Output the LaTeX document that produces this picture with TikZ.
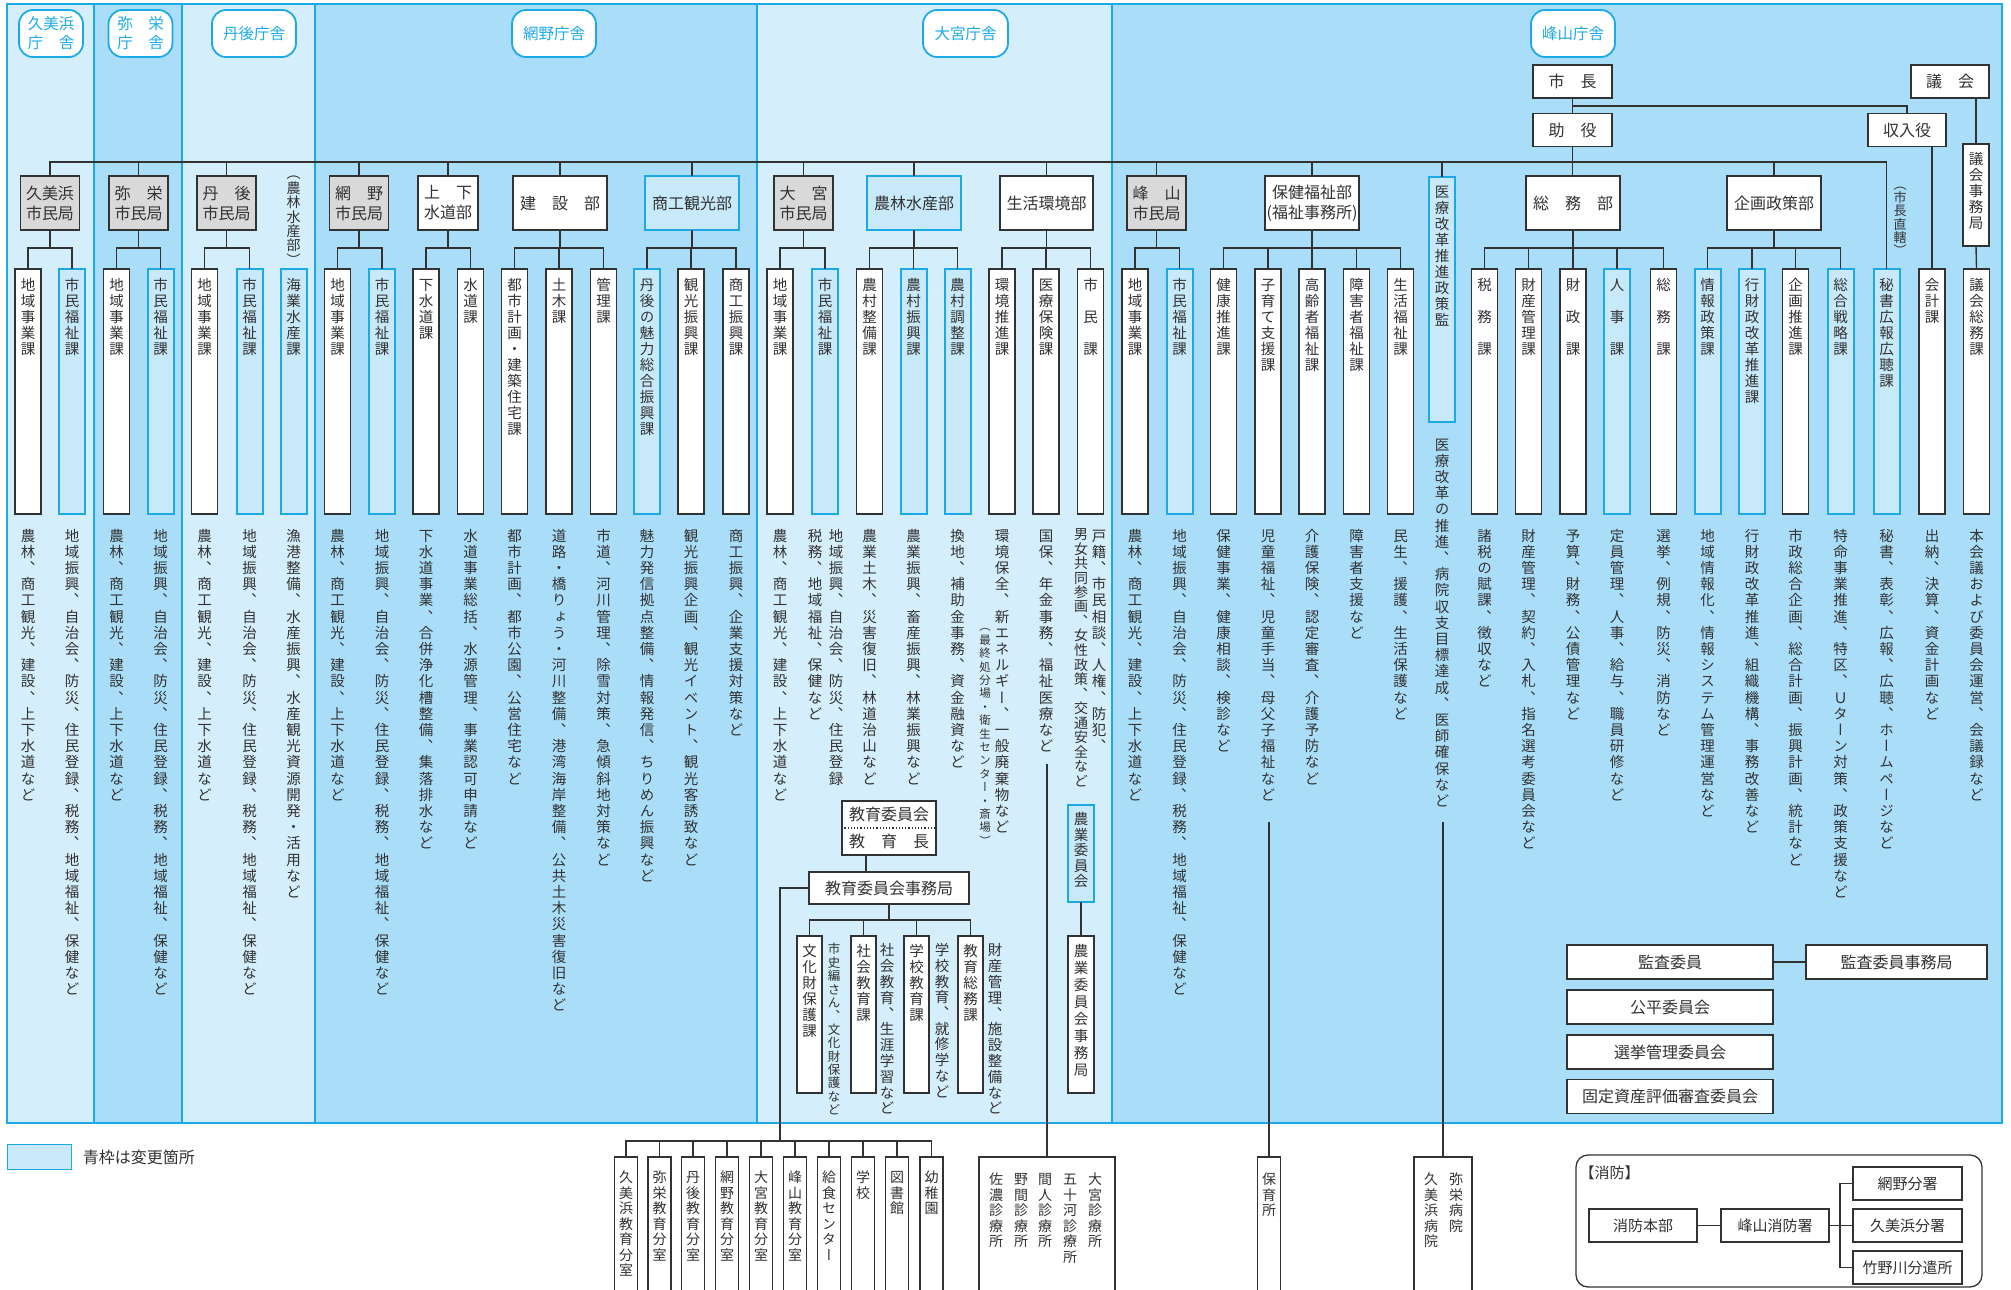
\documentclass[tikz,border=0pt]{standalone}
\usepackage{fontspec}
\usetikzlibrary{positioning}
\newfontfamily\jpfont{Noto Sans CJK JP}
\newfontfamily\jpvfont[RawFeature=+vert]{Noto Sans CJK JP}
\definecolor{kregA}{RGB}{212,238,251}
\definecolor{kregB}{RGB}{170,222,248}
\definecolor{kchgfill}{RGB}{199,233,249}
\definecolor{kcyan}{RGB}{28,170,230}
\definecolor{kink}{RGB}{50,50,50}
\definecolor{kgray}{RGB}{217,217,217}
% 縦書き（1文字ずつ積む）
\ExplSyntaxOn
\dim_new:N \l__kt_pitch_dim
\tl_new:N \l__kt_text_tl
\NewDocumentCommand \tate { O{16.2pt} m }
  {
    \dim_set:Nn \l__kt_pitch_dim {#1}
    \tl_set:Nx \l__kt_text_tl {#2}
    \vbox:n
      {
        \offinterlineskip
        \tl_map_inline:Nn \l__kt_text_tl
          {
            \hbox_to_wd:nn { 1em }
              {
                \hss
                \vrule height 0.8\l__kt_pitch_dim depth 0.2\l__kt_pitch_dim width 0pt
                ##1
                \hss
              }
          }
      }
  }
\ExplSyntaxOff
\tikzset{
  kj/.style={font=\jpfont\fontsize{16}{20}\selectfont, text=kink},
  kv/.style={font=\jpvfont\fontsize{14.5}{16}\selectfont, text=kink, inner sep=0pt, anchor=north},
  kline/.style={draw=kink, line width=1.4pt, line cap=rect},
  kframe/.style={draw=kcyan, line width=1.8pt},
  kbox/.style={kj, draw=kink, line width=1.6pt, fill=white, inner sep=0pt, align=center},
  kshi/.style={kbox, fill=kgray, minimum width=59pt, minimum height=54pt},
  kbu/.style={kbox, minimum width=94pt, minimum height=54pt},
  kchg/.style={draw=kcyan, line width=2pt, fill=kchgfill},
  kka/.style={draw=kink, line width=1.6pt, fill=white, inner sep=0pt, anchor=north,
    minimum width=26pt, minimum height=245pt},
  kbot/.style={kka, minimum width=23pt, minimum height=150pt},
  ksha/.style={font=\jpfont\fontsize{15.5}{19}\selectfont, text=kcyan, draw=kcyan,
    line width=1.8pt, fill=white, rounded corners=14pt, align=center, inner sep=0pt,
    minimum height=47pt},
  kiin/.style={kbox, minimum width=206pt, minimum height=34pt},
  kfire/.style={kbox, line width=1.3pt, minimum width=108pt, minimum height=33pt,
    font=\jpfont\fontsize{15}{18}\selectfont},
}
\begin{document}
\begin{tikzpicture}[x=1pt, y=-1pt]
  \useasboundingbox (0,0) rectangle (2011,1290);
  % 庁舎ごとの背景
  \fill[kregA] (7,4) rectangle (94,1123);
  \fill[kregB] (94,4) rectangle (182,1123);
  \fill[kregA] (182,4) rectangle (315,1123);
  \fill[kregB] (315,4) rectangle (757,1123);
  \fill[kregA] (757,4) rectangle (1112,1123);
  \fill[kregB] (1112,4) rectangle (2002,1123);
  \foreach \x in {94,182,315,757,1112} \draw[kframe] (\x,4) -- (\x,1123);
  \draw[kframe] (7,4) rectangle (2002,1123);

  \coordinate (ym) at (0,162);
  \coordinate (yr) at (0,106);
  \coordinate (yb) at (0,248);
  \coordinate (ydesc) at (0,528);

  % 庁舎名
  \node[ksha, minimum width=64pt] (shaKumi) at (51,33.5) {久美浜\\庁　舎};
  \node[ksha, minimum width=64pt] (shaYasaka) at (140.5,33.5) {弥　栄\\庁　舎};
  \node[ksha, minimum width=84pt] (shaTango) at (254,33.5) {丹後庁舎};
  \node[ksha, minimum width=84pt] (shaAmino) at (554,33.5) {網野庁舎};
  \node[ksha, minimum width=85pt] (shaOmiya) at (965.5,33.5) {大宮庁舎};
  \node[ksha, minimum width=84pt] (shaMine) at (1573,33.5) {峰山庁舎};

  % 市長・助役・議会
  \node[kbox, minimum width=79pt, minimum height=33pt] (shicho) at (1572.5,81.5) {市　長};
  \node[kbox, minimum width=79pt, minimum height=33pt] (joyaku) at (1572.5,130) {助　役};
  \node[kbox, minimum width=78pt, minimum height=33pt] (gikai) at (1950,81.5) {議　会};
  \node[kbox, minimum width=78pt, minimum height=33pt] (shunyu) at (1907,130) {収入役};
  \node[kka, minimum height=102pt] (gikaijim) at (1976,143) {};
  \node[kv] at ([yshift=-8pt]gikaijim.north) {\tate[16pt]{議会事務局}};
  \node[kv, font=\jpvfont\fontsize{13}{13}\selectfont] (chokkatsu) at (1900,179) {\tate[12.5pt]{（市長直轄）}};

  % 部・市民局
  \node[kshi] (kumi) at (50,203) {久美浜\\市民局};
  \node[kshi] (yasaka) at (138.5,203) {弥　栄\\市民局};
  \node[kshi] (tango) at (226.5,203) {丹　後\\市民局};
  \node[kv, font=\jpvfont\fontsize{14}{14}\selectfont] (tangoNorin) at (293.5,168) {\tate[13.3pt]{（農林水産部）}};
  \node[kshi] (amino) at (359,203) {網　野\\市民局};
  \node[kbox, minimum width=60pt, minimum height=54pt] (jogesui) at (448,203) {上　下\\水道部};
  \node[kbu] (kensetsu) at (560,203) {建　設　部};
  \node[kbu, kchg] (shoko) at (692,203) {商工観光部};
  \node[kshi] (omiya) at (803.5,203) {大　宮\\市民局};
  \node[kbu, kchg] (norin) at (914,203) {農林水産部};
  \node[kbu, minimum width=93pt] (seikatsu) at (1046.5,203) {生活環境部};
  \node[kshi] (mine) at (1156.5,203) {峰　山\\市民局};
  \node[kbu] (hoken) at (1312,203) {保健福祉部\\(福祉事務所)};
  \node[kka, kchg] (iryo) at (1442,176) {};
  \node[kv] at ([yshift=-8pt]iryo.north) {\tate[16pt]{医療改革推進政策監}};
  \node[kbu] (somu) at (1573,203) {総　務　部};
  \node[kbu] (kikaku) at (1774,203) {企画政策部};

  % 課
  \foreach \n/\x/\lbl/\st in {
      1/28/地域事業課/kka, 2/72/市民福祉課/kchg, 3/116.5/地域事業課/kka,
      4/160.5/市民福祉課/kchg, 5/204.5/地域事業課/kka, 6/249.5/市民福祉課/kchg,
      7/293.5/海業水産課/kchg, 8/337.5/地域事業課/kka, 9/382/市民福祉課/kchg,
      10/426/下水道課/kka, 11/470.5/水道課/kka, 12/514.5/都市計画・建築住宅課/kka,
      13/559/土木課/kka, 14/603.5/管理課/kka, 15/647/丹後の魅力総合振興課/kchg,
      16/691/観光振興課/kka, 17/736/商工振興課/kka, 18/780/地域事業課/kka,
      19/825/市民福祉課/kchg, 20/869.5/農村整備課/kka, 21/913.5/農村振興課/kchg,
      22/957.5/農村調整課/kchg, 23/1002/環境推進課/kka, 24/1046/医療保険課/kka,
      25/1090.5/市　民　課/kka, 26/1135/地域事業課/kka, 27/1179.5/市民福祉課/kchg,
      28/1223.5/健康推進課/kka, 29/1268/子育て支援課/kka, 30/1312/高齢者福祉課/kka,
      31/1356.5/障害者福祉課/kka, 32/1400.5/生活福祉課/kka, 33/1484.5/税　務　課/kka,
      34/1528.5/財産管理課/kka, 35/1573/財　政　課/kka, 36/1617/人　事　課/kchg,
      37/1663.5/総　務　課/kka, 38/1707.5/情報政策課/kchg, 39/1752/行財政改革推進課/kchg,
      40/1795.5/企画推進課/kka, 41/1840.5/総合戦略課/kchg, 42/1886.5/秘書広報広聴課/kchg,
      43/1932/会計課/kka, 44/1976.5/議会総務課/kka} {
    \node[kka, \st] (c\n) at (\x,268) {};
    \node[kv] at ([yshift=-9pt]c\n.north) {\tate[16pt]{\lbl}};
  }

  % 所掌事務
  \foreach \n/\txt in {
      1/農林、商工観光、建設、上下水道など,
      2/地域振興、自治会、防災、住民登録、税務、地域福祉、保健など,
      3/農林、商工観光、建設、上下水道など,
      4/地域振興、自治会、防災、住民登録、税務、地域福祉、保健など,
      5/農林、商工観光、建設、上下水道など,
      6/地域振興、自治会、防災、住民登録、税務、地域福祉、保健など,
      7/漁港整備、水産振興、水産観光資源開発・活用など,
      8/農林、商工観光、建設、上下水道など,
      9/地域振興、自治会、防災、住民登録、税務、地域福祉、保健など,
      10/下水道事業、合併浄化槽整備、集落排水など,
      11/水道事業総括、水源管理、事業認可申請など,
      12/都市計画、都市公園、公営住宅など,
      13/道路・橋りょう・河川整備、港湾海岸整備、公共土木災害復旧など,
      14/市道、河川管理、除雪対策、急傾斜地対策など,
      15/魅力発信拠点整備、情報発信、ちりめん振興など,
      16/観光振興企画、観光イベント、観光客誘致など,
      17/商工振興、企業支援対策など,
      18/農林、商工観光、建設、上下水道など,
      20/農業土木、災害復旧、林道治山など,
      21/農業振興、畜産振興、林業振興など,
      22/換地、補助金事務、資金融資など,
      23/環境保全、新エネルギー、一般廃棄物など,
      24/国保、年金事務、福祉医療など,
      26/農林、商工観光、建設、上下水道など,
      27/地域振興、自治会、防災、住民登録、税務、地域福祉、保健など,
      28/保健事業、健康相談、検診など,
      29/児童福祉、児童手当、母父子福祉など,
      30/介護保険、認定審査、介護予防など,
      31/障害者支援など,
      32/民生、援護、生活保護など,
      33/諸税の賦課、徴収など,
      34/財産管理、契約、入札、指名選考委員会など,
      35/予算、財務、公債管理など,
      36/定員管理、人事、給与、職員研修など,
      37/選挙、例規、防災、消防など,
      38/地域情報化、情報システム管理運営など,
      39/行財政改革推進、組織機構、事務改善など,
      40/市政総合企画、総合計画、振興計画、統計など,
      41/特命事業推進、特区、Ｕターン対策、政策支援など,
      42/秘書、表彰、広報、広聴、ホームページなど,
      43/出納、決算、資金計画など,
      44/本会議および委員会運営、会議録など} {
    \node[kv] (d\n) at (c\n.north |- ydesc) {\tate{\txt}};
  }
  \node[kv] (d19a) at ([xshift=11pt]c19.north |- ydesc) {\tate{地域振興、自治会、防災、住民登録}};
  \node[kv] (d19b) at ([xshift=-10pt]c19.north |- ydesc) {\tate{税務、地域福祉、保健など}};
  \node[kv, font=\jpvfont\fontsize{11.5}{12}\selectfont] (d23b) at ([xshift=-17pt]c23.north |- 0,620) {\tate[13.4pt]{（最終処分場・衛生センター・斎場）}};
  \node[kv] (d25a) at ([xshift=8.5pt]c25.north |- ydesc) {\tate{戸籍、市民相談、人権、防犯、}};
  \node[kv, font=\jpvfont\fontsize{14}{14}\selectfont] (d25b) at ([xshift=-9.5pt]c25.north |- ydesc) {\tate[14.3pt]{男女共同参画、女性政策、交通安全など}};
  \node[kv] (diryo) at (1442,437) {\tate{医療改革の推進、病院収支目標達成、医師確保など}};

  % 接続線
  \draw[kline] (shicho) -- (joyaku);
  \draw[kline] (shicho.south |- yr) -| (shunyu.north);
  \draw[kline] (joyaku.south) -- (joyaku.south |- somu.north);
  \draw[kline] (c43.north |- shunyu.south) -- (c43.north);
  \draw[kline] (gikaijim.north |- gikai.south) -- (gikaijim.north);
  \draw[kline] (gikaijim.south) -- (c44.north);
  \draw[kline] (kumi.north |- ym) -- (c42.north |- ym) -- (c42.north);
  \foreach \d in {kumi,yasaka,tango,amino,jogesui,kensetsu,shoko,omiya,norin,seikatsu,mine,hoken,iryo,kikaku}
    \draw[kline] (\d.north) -- (\d.north |- ym);
  \foreach \d/\a/\b in {kumi/1/2, yasaka/3/4, tango/5/6, amino/8/9, jogesui/10/11,
      kensetsu/12/14, shoko/15/17, omiya/18/19, norin/20/22, seikatsu/23/25, mine/26/27,
      hoken/28/32, somu/33/37, kikaku/38/41} {
    \draw[kline] (\d.south) -- (\d.south |- yb);
    \draw[kline] (c\a.north |- yb) -- (c\b.north |- yb);
    \foreach \c in {\a,...,\b} \draw[kline] (c\c.north) -- (c\c.north |- yb);
  }

  % 教育委員会
  \node[kbox, minimum width=94pt, minimum height=54pt, font=\jpfont\fontsize{16}{27}\selectfont] (kyoi) at (889,828) {教育委員会\\教　育　長};
  \draw[kink, dotted, line width=1.2pt] (kyoi.west) -- (kyoi.east);
  \node[kbox, minimum width=160pt, minimum height=32pt] (kyojim) at (889,888) {教育委員会事務局};
  \draw[kline] ([xshift=-23pt]kyoi.south) -- ([xshift=-23pt]kyoi.south |- kyojim.north);
  \foreach \n/\x/\lbl in {1/809.5/文化財保護課, 2/863.5/社会教育課, 3/916.5/学校教育課, 4/970.5/教育総務課} {
    \node[kka, minimum width=25pt, minimum height=157pt] (e\n) at (\x,935) {};
    \node[kv] at ([yshift=-8pt]e\n.north) {\tate[16pt]{\lbl}};
  }
  \coordinate (ye) at (0,920);
  \draw[kline] (kyojim.south) -- (kyojim.south |- ye);
  \draw[kline] (e1.north |- ye) -- (e4.north |- ye);
  \foreach \n in {1,...,4} \draw[kline] (e\n.north) -- (e\n.north |- ye);
  \node[kv, font=\jpvfont\fontsize{12.5}{13}\selectfont] (de1) at (834,943) {\tate[13.4pt]{市史編さん、文化財保護など}};
  \node[kv] (de2) at (887,943) {\tate[15.8pt]{社会教育、生涯学習など}};
  \node[kv] (de3) at (942,943) {\tate[15.7pt]{学校教育、就修学など}};
  \node[kv] (de4) at (995,943) {\tate[15.8pt]{財産管理、施設整備など}};

  % 教育機関
  \coordinate (kyojunc) at (780,1141);
  \draw[kline] (kyojim.west) -| (kyojunc);
  \foreach \n/\x/\lbl in {1/626/久美浜教育分室, 2/659.5/弥栄教育分室, 3/693/丹後教育分室,
      4/727/網野教育分室, 5/761/大宮教育分室, 6/795/峰山教育分室, 7/829/給食センター,
      8/863/学校, 9/897/図書館, 10/931.5/幼稚園} {
    \node[kbot] (b\n) at (\x,1156) {};
    \node[kv, font=\jpvfont\fontsize{14}{15}\selectfont] at ([yshift=-14pt]b\n.north) {\tate[15.5pt]{\lbl}};
    \draw[kline] (b\n.north) -- (b\n.north |- kyojunc);
  }
  \draw[kline] (b1.north |- kyojunc) -- (b10.north |- kyojunc);

  % 農業委員会
  \node[kka, kchg, minimum height=97pt] (nogyo) at (1081,804) {};
  \node[kv] at ([yshift=-8pt]nogyo.north) {\tate[15.5pt]{農業委員会}};
  \node[kka, minimum height=157pt] (nogyojim) at (1081,935) {};
  \node[kv] at ([yshift=-8pt]nogyojim.north) {\tate[17pt]{農業委員会事務局}};
  \draw[kline] (nogyo.south) -- (nogyojim.north);

  % 診療所・保育所・病院
  \node[kbot, minimum width=136pt] (shinryo) at (1047,1156) {};
  \foreach \x/\lbl in {1095/大宮診療所, 1070/五十河診療所, 1045/間人診療所, 1021/野間診療所, 996/佐濃診療所}
    \node[kv, font=\jpvfont\fontsize{14}{15}\selectfont] at (\x,1172) {\tate[15.5pt]{\lbl}};
  \node[kbot] (hoiku) at (1269,1156) {};
  \node[kv, font=\jpvfont\fontsize{14}{15}\selectfont] at ([yshift=-16pt]hoiku.north) {\tate[15.5pt]{保育所}};
  \node[kbot, minimum width=58pt] (byoin) at (1443,1156) {};
  \node[kv, font=\jpvfont\fontsize{14}{15}\selectfont] at (1456,1172) {\tate[15.5pt]{弥栄病院}};
  \node[kv, font=\jpvfont\fontsize{14}{15}\selectfont] at (1431,1172) {\tate[15.5pt]{久美浜病院}};
  \draw[kline] (shinryo.north |- 0,765) -- (shinryo.north);
  \draw[kline] (hoiku.north |- 0,823) -- (hoiku.north);
  \draw[kline] (byoin.north |- 0,823) -- (byoin.north);

  % 行政委員会
  \node[kiin] (kansa) at (1670,962) {監査委員};
  \node[kiin, minimum width=181pt] (kansajim) at (1896.5,962) {監査委員事務局};
  \node[kiin] (kohei) at (1670,1007) {公平委員会};
  \node[kiin] (senkyo) at (1670,1052) {選挙管理委員会};
  \node[kiin] (kotei) at (1670,1096.5) {固定資産評価審査委員会};
  \draw[kline] (kansa) -- (kansajim);

  % 消防
  \node[draw=kink, line width=1.3pt, rounded corners=12pt, minimum width=406pt,
    minimum height=132pt, inner sep=0pt] (shobo) at (1779,1221) {};
  \node[kj, font=\jpfont\fontsize{15}{18}\selectfont, anchor=north west, inner sep=0pt]
    at ([xshift=4pt,yshift=-11pt]shobo.north west) {【消防】};
  \node[kfire] (shohon) at (1643,1225.5) {消防本部};
  \node[kfire] (minesho) at (1775,1225.5) {峰山消防署};
  \node[kfire, minimum width=109pt] (amisho) at (1907.5,1183.5) {網野分署};
  \node[kfire, minimum width=109pt] (kumisho) at (1907.5,1225.5) {久美浜分署};
  \node[kfire, minimum width=109pt] (takesho) at (1907.5,1267.5) {竹野川分遣所};
  \coordinate (fb) at (1840,1225.5);
  \draw[kline, line width=1.1pt] (shohon) -- (minesho);
  \draw[kline, line width=1.1pt] (minesho.east) -- (kumisho.west);
  \draw[kline, line width=1.1pt] (amisho.west) -| (fb) |- (takesho.west);

  % 凡例
  \node[draw=kcyan, fill=kchgfill, line width=1.6pt, minimum width=64pt, minimum height=25pt] (leg) at (39.5,1157) {};
  \node[kj, font=\jpfont\fontsize{16}{18}\selectfont, right=7pt of leg] (legtxt) {青枠は変更箇所};
\end{tikzpicture}
\end{document}
